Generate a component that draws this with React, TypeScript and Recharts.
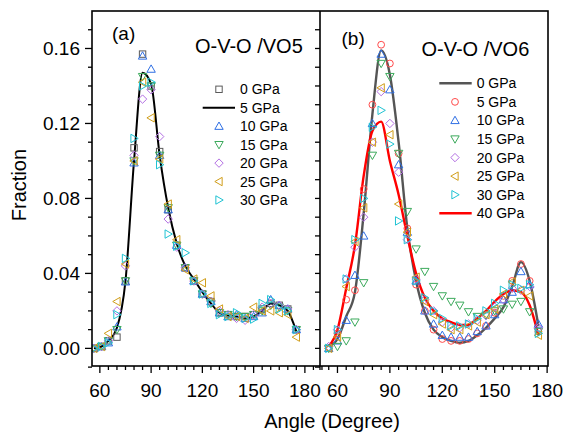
import React from 'react';
import { ComposedChart, Line, Scatter, XAxis, YAxis } from 'recharts';

// ---------- data ----------
const leftAngles = [56.5, 61, 65, 70, 75, 80, 85, 90, 95, 100, 105, 110, 115, 120, 125, 130, 135, 140, 145, 150, 155, 160, 165, 170, 175];
const rightAngles = [55, 60, 65, 70, 75, 80, 85, 90, 95, 100, 105, 110, 115, 120, 125, 130, 135, 140, 145, 150, 155, 160, 165, 170, 175];

const vo5_0 = [0.000, 0.001, 0.004, 0.006, 0.036, 0.107, 0.157, 0.140, 0.105, 0.074, 0.055, 0.043, 0.036, 0.029, 0.025, 0.019, 0.018, 0.017, 0.017, 0.018, 0.021, 0.024, 0.023, 0.021, 0.010];
const vo5_5 = [0.000, 0.001, 0.004, 0.011, 0.036, 0.100, 0.147, 0.141, 0.103, 0.075, 0.056, 0.044, 0.037, 0.030, 0.024, 0.019, 0.0175, 0.017, 0.016, 0.017, 0.020, 0.024, 0.023, 0.020, 0.009];
const vo5_10 = [0.000, 0.001, 0.003, 0.0115, 0.0355, 0.099, 0.156, 0.149, 0.103, 0.074, 0.055, 0.043, 0.036, 0.029, 0.025, 0.019, 0.017, 0.018, 0.016, 0.017, 0.019, 0.026, 0.023, 0.021, 0.010];
const vo5_15 = [0.000, 0.001, 0.004, 0.010, 0.036, 0.100, 0.145, 0.140, 0.103, 0.075, 0.055, 0.043, 0.036, 0.029, 0.024, 0.019, 0.018, 0.017, 0.017, 0.018, 0.020, 0.023, 0.022, 0.020, 0.010];
const vo5_20 = [0.000, 0.001, 0.004, 0.020, 0.044, 0.103, 0.133, 0.138, 0.113, 0.069, 0.054, 0.043, 0.036, 0.029, 0.025, 0.020, 0.018, 0.016, 0.015, 0.018, 0.022, 0.024, 0.023, 0.021, 0.010];
const vo5_25 = [0.000, 0.001, 0.008, 0.025, 0.045, 0.100, 0.142, 0.123, 0.101, 0.077, 0.058, 0.042, 0.037, 0.035, 0.028, 0.021, 0.017, 0.017, 0.016, 0.022, 0.020, 0.020, 0.019, 0.018, 0.006];
const vo5_30 = [0.000, 0.001, 0.003, 0.018, 0.048, 0.112, 0.140, 0.142, 0.098, 0.061, 0.0545, 0.051, 0.036, 0.029, 0.024, 0.018, 0.017, 0.019, 0.016, 0.0156, 0.024, 0.026, 0.021, 0.020, 0.010];

const vo6_0 = [0.001, 0.005, 0.017, 0.030, 0.072, 0.125, 0.159, 0.146, 0.110, 0.064, 0.036, 0.019, 0.010, 0.006, 0.004, 0.003, 0.004, 0.007, 0.011, 0.016, 0.022, 0.033, 0.046, 0.036, 0.012];
const vo6_5 = [0.000, 0.008, 0.026, 0.031, 0.085, 0.130, 0.162, 0.152, 0.104, 0.064, 0.034, 0.020, 0.010, 0.005, 0.004, 0.004, 0.005, 0.008, 0.012, 0.019, 0.028, 0.036, 0.045, 0.036, 0.009];
const vo6_10 = [0.000, 0.004, 0.015, 0.039, 0.060, 0.120, 0.157, 0.138, 0.098, 0.062, 0.036, 0.020, 0.013, 0.007, 0.006, 0.006, 0.006, 0.009, 0.012, 0.018, 0.026, 0.030, 0.041, 0.034, 0.013];
const vo6_15 = [0.000, 0.001, 0.004, 0.014, 0.035, 0.103, 0.152, 0.145, 0.104, 0.073, 0.053, 0.041, 0.033, 0.028, 0.025, 0.023, 0.0195, 0.017, 0.0177, 0.020, 0.021, 0.0235, 0.025, 0.0195, 0.009];
const vo6_20 = [0.001, 0.010, 0.037, 0.054, 0.070, 0.110, 0.137, 0.120, 0.094, 0.058, 0.037, 0.026, 0.020, 0.014, 0.011, 0.011, 0.013, 0.015, 0.0175, 0.022, 0.026, 0.032, 0.031, 0.033, 0.011];
const vo6_25 = [0.000, 0.006, 0.033, 0.057, 0.075, 0.110, 0.139, 0.114, 0.077, 0.062, 0.038, 0.025, 0.018, 0.013, 0.010, 0.010, 0.012, 0.014, 0.018, 0.021, 0.029, 0.0355, 0.031, 0.028, 0.007];
const vo6_30 = [0.000, 0.010, 0.037, 0.058, 0.080, 0.118, 0.127, 0.109, 0.068, 0.058, 0.036, 0.027, 0.020, 0.016, 0.012, 0.012, 0.013, 0.016, 0.020, 0.024, 0.031, 0.034, 0.032, 0.034, 0.008];
const vo6_40 = [0.001, 0.010, 0.032, 0.055, 0.092, 0.116, 0.121, 0.100, 0.082, 0.060, 0.040, 0.027, 0.020, 0.016, 0.014, 0.0125, 0.0125, 0.016, 0.020, 0.025, 0.029, 0.031, 0.030, 0.023, 0.007];

const xTicksLeft = [60, 65, 70, 75, 80, 85, 90, 95, 100, 105, 110, 115, 120, 125, 130, 135, 140, 145, 150, 155, 160, 165, 170, 175, 180, 185, 190];
const xTicksRight = [50, 55, 60, 65, 70, 75, 80, 85, 90, 95, 100, 105, 110, 115, 120, 125, 130, 135, 140, 145, 150, 155, 160, 165, 170, 175, 180];
const yTicks = [-0.01, 0, 0.01, 0.02, 0.03, 0.04, 0.05, 0.06, 0.07, 0.08, 0.09, 0.1, 0.11, 0.12, 0.13, 0.14, 0.15, 0.16, 0.17];

const legendLeft = ['0 GPa', '5 GPa', '10 GPa', '15 GPa', '20 GPa', '25 GPa', '30 GPa'];
const legendRight = ['0 GPa', '5 GPa', '10 GPa', '15 GPa', '20 GPa', '25 GPa', '30 GPa', '40 GPa'];

// ---------- styling ----------
const FONT = '"Liberation Sans", Arial, Helvetica, sans-serif';
const C = {
  gray: '#5a5a5a',
  red: '#ff4a4a',
  blue: '#2f6fe4',
  green: '#3caa5c',
  purple: '#b36fe3',
  orange: '#d19e1a',
  cyan: '#1fc3d3',
  line: '#000000',
  grayLine: '#555555',
  redLine: '#ff0000',
};

const leftRows = leftAngles.map((a, i) => ({
  angle: a, s0: vo5_0[i], s5: vo5_5[i], s10: vo5_10[i], s15: vo5_15[i], s20: vo5_20[i], s25: vo5_25[i], s30: vo5_30[i],
}));
const rightRows = rightAngles.map((a, i) => ({
  angle: a, s0: vo6_0[i], s5: vo6_5[i], s10: vo6_10[i], s15: vo6_15[i], s20: vo6_20[i], s25: vo6_25[i], s30: vo6_30[i], s40: vo6_40[i],
}));

type Kind = 'square' | 'circle' | 'up' | 'down' | 'left' | 'right' | 'diamond';

function Marker({ cx, cy, kind, color }: { cx: number; cy: number; kind: Kind; color: string }) {
  if (cx == null || cy == null || isNaN(cx) || isNaN(cy)) return <g />;
  const sw = 1;
  const common = { fill: 'none', stroke: color, strokeWidth: sw };
  const r = 4.2;
  switch (kind) {
    case 'square':
      return <rect x={cx - 3.2} y={cy - 3.2} width={6.4} height={6.4} {...common} />;
    case 'circle':
      return <circle cx={cx} cy={cy} r={3.4} {...common} />;
    case 'up':
      return <polygon points={`${cx},${cy - r} ${cx - r},${cy + r * 0.75} ${cx + r},${cy + r * 0.75}`} {...common} />;
    case 'down':
      return <polygon points={`${cx},${cy + r} ${cx - r},${cy - r * 0.75} ${cx + r},${cy - r * 0.75}`} {...common} />;
    case 'left':
      return <polygon points={`${cx - r},${cy} ${cx + r * 0.75},${cy - r} ${cx + r * 0.75},${cy + r}`} {...common} />;
    case 'right':
      return <polygon points={`${cx + r},${cy} ${cx - r * 0.75},${cy - r} ${cx - r * 0.75},${cy + r}`} {...common} />;
    case 'diamond':
      return <polygon points={`${cx},${cy - r} ${cx + r},${cy} ${cx},${cy + r} ${cx - r},${cy}`} {...common} />;
  }
  return <g />;
}

const shapeOf = (kind: Kind, color: string) => (p: any) => <Marker cx={p.cx} cy={p.cy} kind={kind} color={color} />;

const XTick = (props: any) => {
  const { x, y, payload } = props;
  const v = payload.value;
  const major = v % 30 === 0;
  return (
    <g>
      <line x1={x} x2={x} y1={y} y2={y + (major ? 7 : 4)} stroke="#000" strokeWidth={1.3} />
      {major && (
        <text x={x} y={y + 31} textAnchor="middle" fontSize={19} fontFamily={FONT} fill="#000">{v}</text>
      )}
    </g>
  );
};

const YTickLabeled = (props: any) => {
  const { x, y, payload } = props;
  const v = payload.value;
  const major = Math.abs(Math.round(v * 100)) % 4 === 0;
  return (
    <g>
      <line x1={x} x2={x - (major ? 7 : 4)} y1={y} y2={y} stroke="#000" strokeWidth={1.3} />
      {major && v >= 0 && (
        <text x={x - 12} y={y + 6.7} textAnchor="end" fontSize={19} fontFamily={FONT} fill="#000">{v.toFixed(2)}</text>
      )}
    </g>
  );
};

const YTickPlain = (props: any) => {
  const { x, y } = props;
  return <line x1={x} x2={x - 5} y1={y} y2={y} stroke="#000" strokeWidth={1.3} />;
};

const Y_DOMAIN: [number, number] = [-0.0094, 0.18];

function LeftPanel() {
  return (
    <ComposedChart width={330} height={437} data={leftRows} margin={{ top: 11, right: 0, bottom: 0, left: 0 }}>
      <XAxis dataKey="angle" type="number" domain={[55.4, 194.7]} allowDataOverflow ticks={xTicksLeft} interval={0}
        tick={<XTick />} tickSize={0} tickMargin={0} tickLine={false} axisLine={false} height={71} />
      <YAxis type="number" domain={Y_DOMAIN} allowDataOverflow ticks={yTicks} interval={0} width={92}
        tick={<YTickLabeled />} tickSize={0} tickMargin={0} tickLine={false} axisLine={false} />
      <Scatter dataKey="s0" shape={shapeOf('square', C.gray)} isAnimationActive={false} />
      <Line dataKey="s5" type="monotone" stroke={C.line} strokeWidth={2} dot={false} isAnimationActive={false} />
      <Scatter dataKey="s10" shape={shapeOf('up', C.blue)} isAnimationActive={false} />
      <Scatter dataKey="s15" shape={shapeOf('down', C.green)} isAnimationActive={false} />
      <Scatter dataKey="s20" shape={shapeOf('diamond', C.purple)} isAnimationActive={false} />
      <Scatter dataKey="s25" shape={shapeOf('left', C.orange)} isAnimationActive={false} />
      <Scatter dataKey="s30" shape={shapeOf('right', C.cyan)} isAnimationActive={false} />
    </ComposedChart>
  );
}

function RightPanel() {
  return (
    <ComposedChart width={254} height={437} data={rightRows} margin={{ top: 11, right: 16, bottom: 0, left: 0 }}>
      <XAxis dataKey="angle" type="number" domain={[50, 180.5]} allowDataOverflow ticks={xTicksRight} interval={0}
        tick={<XTick />} tickSize={0} tickMargin={0} tickLine={false} axisLine={false} height={71} />
      <YAxis type="number" domain={Y_DOMAIN} allowDataOverflow ticks={yTicks} interval={0} width={10}
        tick={<YTickPlain />} tickSize={0} tickMargin={0} tickLine={false} axisLine={false} />
      <Line dataKey="s0" type="monotone" stroke={C.grayLine} strokeWidth={2.4} dot={false} isAnimationActive={false} />
      <Scatter dataKey="s5" shape={shapeOf('circle', C.red)} isAnimationActive={false} />
      <Scatter dataKey="s10" shape={shapeOf('up', C.blue)} isAnimationActive={false} />
      <Scatter dataKey="s15" shape={shapeOf('down', C.green)} isAnimationActive={false} />
      <Scatter dataKey="s20" shape={shapeOf('diamond', C.purple)} isAnimationActive={false} />
      <Scatter dataKey="s25" shape={shapeOf('left', C.orange)} isAnimationActive={false} />
      <Scatter dataKey="s30" shape={shapeOf('right', C.cyan)} isAnimationActive={false} />
      <Line dataKey="s40" type="monotone" stroke={C.redLine} strokeWidth={2.4} dot={false} isAnimationActive={false} />
    </ComposedChart>
  );
}

const leftKinds: (Kind | 'line')[] = ['square', 'line', 'up', 'down', 'diamond', 'left', 'right'];
const leftColors = [C.gray, C.line, C.blue, C.green, C.purple, C.orange, C.cyan];
const rightKinds: (Kind | 'line')[] = ['line', 'circle', 'up', 'down', 'diamond', 'left', 'right', 'line'];
const rightColors = [C.grayLine, C.red, C.blue, C.green, C.purple, C.orange, C.cyan, C.redLine];

function Overlay() {
  return (
    <svg width={564} height={437} style={{ position: 'absolute', left: 0, top: 0, pointerEvents: 'none' }}>
      {/* frames */}
      <rect x={92} y={11} width={456} height={355} fill="none" stroke="#000" strokeWidth={1.6} />
      <line x1={320} x2={320} y1={11} y2={366} stroke="#000" strokeWidth={1.6} />

      {/* panel labels */}
      <text x={112} y={39.5} fontSize={19} fontFamily={FONT}>(a)</text>
      <text x={341.5} y={44.5} fontSize={19} fontFamily={FONT}>(b)</text>
      <text x={195} y={53} fontSize={20} fontFamily={FONT}>O-V-O /VO5</text>
      <text x={421.5} y={56} fontSize={20} fontFamily={FONT}>O-V-O /VO6</text>

      {/* left legend */}
      {legendLeft.map((name, i) => {
        const y = 89.3 + 18.45 * i;
        const k = leftKinds[i];
        return (
          <g key={name}>
            {k === 'line'
              ? <line x1={202.7} x2={235} y1={y} y2={y} stroke={leftColors[i]} strokeWidth={2} />
              : <Marker cx={219} cy={y} kind={k as Kind} color={leftColors[i]} />}
            <text x={240} y={y + 5} fontSize={14} fontFamily={FONT}>{name}</text>
          </g>
        );
      })}

      {/* right legend */}
      {legendRight.map((name, i) => {
        const y = 83.3 + 18.57 * i;
        const k = rightKinds[i];
        return (
          <g key={name}>
            {k === 'line'
              ? <line x1={439.3} x2={471.7} y1={y} y2={y} stroke={rightColors[i]} strokeWidth={2.4} />
              : <Marker cx={455} cy={y} kind={k as Kind} color={rightColors[i]} />}
            <text x={476.7} y={y + 5} fontSize={14} fontFamily={FONT}>{name}</text>
          </g>
        );
      })}

      {/* axis titles */}
      <text x={332} y={427.5} textAnchor="middle" fontSize={20} fontFamily={FONT}>Angle (Degree)</text>
      <text transform="translate(26,185) rotate(-90)" textAnchor="middle" fontSize={20} fontFamily={FONT}>Fraction</text>
    </svg>
  );
}

export default function App() {
  return (
    <div style={{ position: 'absolute', left: 0, top: 0, width: 564, height: 437, background: '#fff', fontFamily: FONT }}>
      <div style={{ position: 'absolute', left: 0, top: 0 }}>
        <LeftPanel />
      </div>
      <div style={{ position: 'absolute', left: 310, top: 0 }}>
        <RightPanel />
      </div>
      <Overlay />
    </div>
  );
}
